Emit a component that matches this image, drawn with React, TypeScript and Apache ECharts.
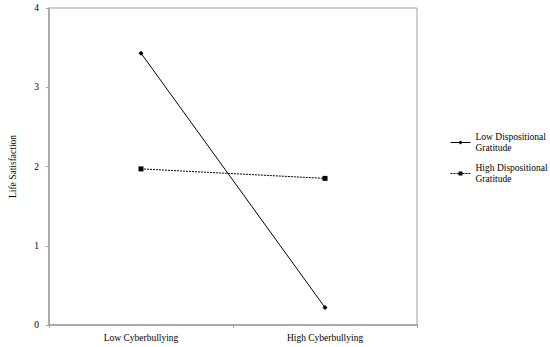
import React, { useEffect, useRef } from "react";
import * as echarts from "echarts";

const categories = ["Low Cyberbullying", "High Cyberbullying"];
const lowGratitude = [3.43, 0.22];
const highGratitude = [1.97, 1.85];
const seriesNames = ["Low Dispositional\nGratitude", "High Dispositional\nGratitude"];

const FONT = "Liberation Serif, Times New Roman, serif";
const FS = 9.5;

export default function App() {
  const ref = useRef<HTMLDivElement>(null);
  useEffect(() => {
    const chart = echarts.init(ref.current!, null, { renderer: "svg" });
    chart.setOption({
      animation: false,
      backgroundColor: "#fff",
      textStyle: { fontFamily: FONT, color: "#000" },
      grid: { left: 43, right: 133, top: 8, bottom: 22, show: true, borderColor: "#a0a0a0", borderWidth: 1 },
      legend: {
        orient: "vertical",
        left: 450,
        top: 131,
        padding: 0,
        itemWidth: 20,
        itemHeight: 5,
        itemGap: 8,
        lineStyle: { width: 1 },
        textStyle: { fontFamily: FONT, fontSize: FS, color: "#000", lineHeight: 11.5 },
        data: seriesNames,
      },
      xAxis: {
        type: "category",
        data: categories,
        boundaryGap: true,
        axisLine: { lineStyle: { color: "#a0a0a0", width: 1.5 } },
        axisTick: { show: true, length: 3, lineStyle: { color: "#a0a0a0" } },
        axisLabel: { fontFamily: FONT, fontSize: FS, color: "#000", margin: 8 },
      },
      yAxis: {
        type: "value",
        min: 0,
        max: 4,
        interval: 1,
        name: "Life Satisfaction",
        nameLocation: "middle",
        nameGap: 31,
        nameRotate: 90,
        nameTextStyle: { fontFamily: FONT, fontSize: FS, color: "#000" },
        splitLine: { show: false },
        axisLine: { show: true, lineStyle: { color: "#a0a0a0", width: 1.5 } },
        axisTick: { show: true, length: 3, lineStyle: { color: "#a0a0a0" } },
        axisLabel: { fontFamily: FONT, fontSize: FS, color: "#000", margin: 10 },
      },
      series: [
        {
          name: seriesNames[0],
          type: "line",
          data: lowGratitude,
          symbol: "diamond",
          symbolSize: 5,
          lineStyle: { color: "#000", width: 1 },
          itemStyle: { color: "#000" },
        },
        {
          name: seriesNames[1],
          type: "line",
          data: highGratitude,
          symbol: "rect",
          symbolSize: 5,
          lineStyle: { color: "#000", width: 1, type: [2, 1] },
          itemStyle: { color: "#000" },
        },
      ],
    });
    return () => chart.dispose();
  }, []);
  return <div ref={ref} style={{ width: 550, height: 347, position: "absolute", left: 0, top: 0 }} />;
}
